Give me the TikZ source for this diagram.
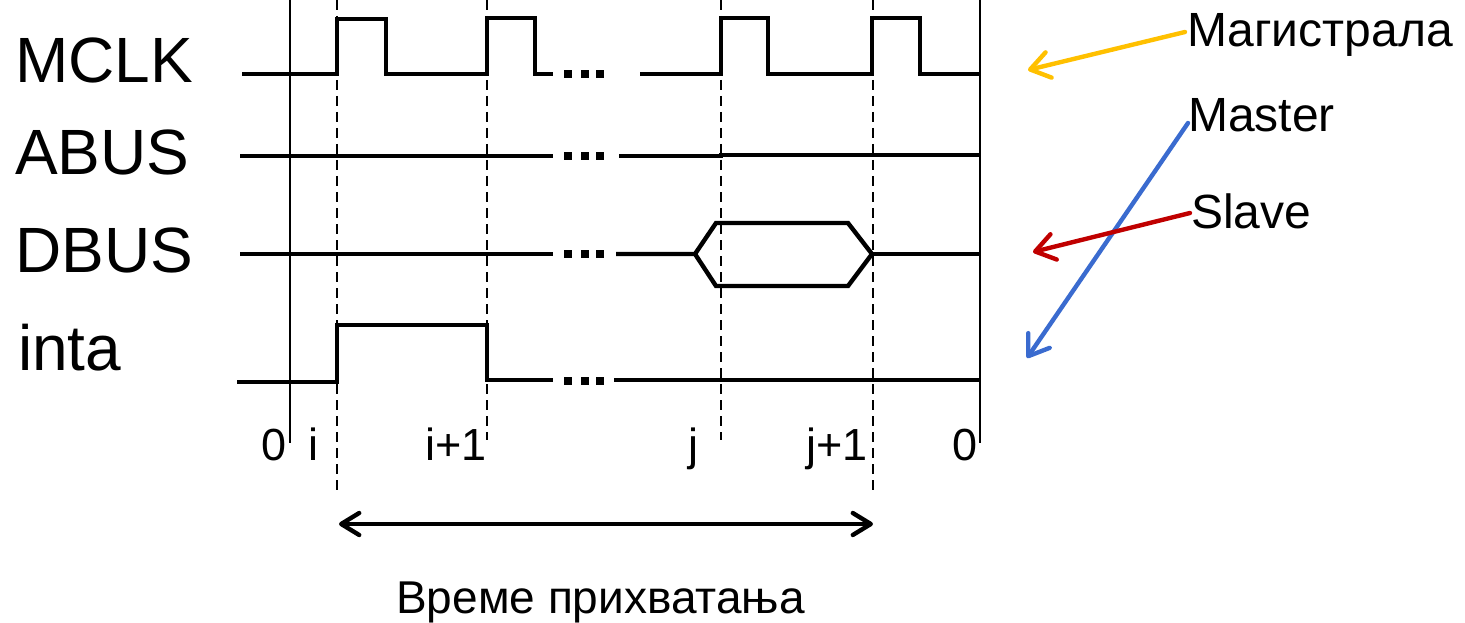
\documentclass[tikz,border=0pt]{standalone}
\usepackage{fontspec}
\setmainfont{Liberation Sans}
\usetikzlibrary{arrows.meta,calc}
\definecolor{magcol}{HTML}{FFC000}
\definecolor{mastcol}{HTML}{3A6BCF}
\definecolor{slavecol}{HTML}{C00000}
\tikzset{
  sig/.style={line width=4.4pt, line join=miter},
  axis/.style={line width=2pt},
  grid/.style={line width=1.8pt, dash pattern=on 10pt off 6pt},
  biglbl/.style={anchor=base west, inner sep=0pt, font=\fontsize{64}{70}\selectfont},
  ticklbl/.style={anchor=base west, inner sep=0pt, font=\fontsize{45}{50}\selectfont},
  sidelbl/.style={anchor=base west, inner sep=0pt, font=\fontsize{48}{52}\selectfont},
  barb/.tip={Straight Barb[length=19pt,width=26pt,line cap=round,line join=round]},
  ptr/.style={line width=4.4pt, line cap=round, -barb},
  sqdot/.style={fill=black},
}
\begin{document}
\begin{tikzpicture}[x=1pt,y=-1pt]
\useasboundingbox (0,0) rectangle (1465,623);
% axes
\draw[axis] (290,0) -- (290,443);
\draw[axis] (980,0) -- (980,443);
% dashed grid lines
\draw[grid] (337,0) -- (337,495);
\draw[grid] (487,0) -- (487,440);
\draw[grid] (721,0) -- (721,440);
\draw[grid] (873,0) -- (873,495);
% signal labels
\node[biglbl] (mclk) at (15,83) {MCLK};
\node[biglbl] (abus) at (15,175) {ABUS};
\node[biglbl] (dbus) at (15,272) {DBUS};
\node[biglbl] (inta) at (18,370) {inta};
% MCLK
\draw[sig] (242,74) -- (337,74) -- (337,19) -- (386,19) -- (386,74) -- (487,74) -- (487,18) -- (535,18) -- (535,74) -- (553,74);
\draw[sig] (640,74) -- (721,74) -- (721,18) -- (768,18) -- (768,74) -- (872,74) -- (872,18) -- (920,18) -- (920,74) -- (980,74);
% ABUS
\draw[sig] (240,156) -- (553,156);
\draw[sig] (619,156) -- (721,156) -- (721,155) -- (980,155);
% DBUS
\draw[sig] (240,254) -- (553,254);
\draw[sig] (616,254) -- (695,254) -- (716,223) -- (848,223) -- (872,254) -- (848,286) -- (716,286) -- (695,254);
\draw[sig] (872,254) -- (980,254);
% inta
\draw[sig] (237,382) -- (337,382) -- (337,325) -- (487,325) -- (487,380) -- (553,380);
\draw[sig] (614,380) -- (980,380);
% square dots
\foreach \yy in {74,156,254,381}{
  \foreach \xx in {568,585,600}{
    \fill[sqdot] (\xx-4,\yy-4) rectangle (\xx+4,\yy+4);
  }
}
% tick labels
\node[ticklbl] (t0a) at (261,460) {0};
\node[ticklbl] (ti) at (308,460) {i};
\node[ticklbl] (ti1) at (425,460) {i+1};
\node[ticklbl] (tj) at (688,460) {j};
\node[ticklbl] (tj1) at (806,460) {j+1};
\node[ticklbl] (t0b) at (952,460) {0};
% capture time arrow
\coordinate (capL) at (339,524);
\coordinate (capR) at (873,524);
\draw[line width=4.4pt, {Straight Barb[length=18pt,width=22pt,line cap=round,line join=round]}-{Straight Barb[length=18pt,width=22pt,line cap=round,line join=round]}] (capL) -- (capR);
\node[anchor=base west, inner sep=0pt, font=\fontsize{46}{50}\selectfont] (cap) at (396,613) {Време прихватања};
% side labels and pointers
\node[sidelbl] (mag) at (1187,47) {Магистрала};
\node[sidelbl] (mast) at (1188,132) {Master};
\node[sidelbl] (slv) at (1191,228) {Slave};
\coordinate (magEnd) at (1028,70);
\coordinate (mastEnd) at (1027,358);
\coordinate (slvEnd) at (1033,252);
\draw[ptr, magcol] ($(mag.base west)+(-2,-15)$) -- (magEnd);
\draw[ptr, mastcol] ($(mast.base west)+(0,-9)$) -- (mastEnd);
\draw[ptr, slavecol] ($(slv.base west)+(-1,-15)$) -- (slvEnd);
\end{tikzpicture}
\end{document}
